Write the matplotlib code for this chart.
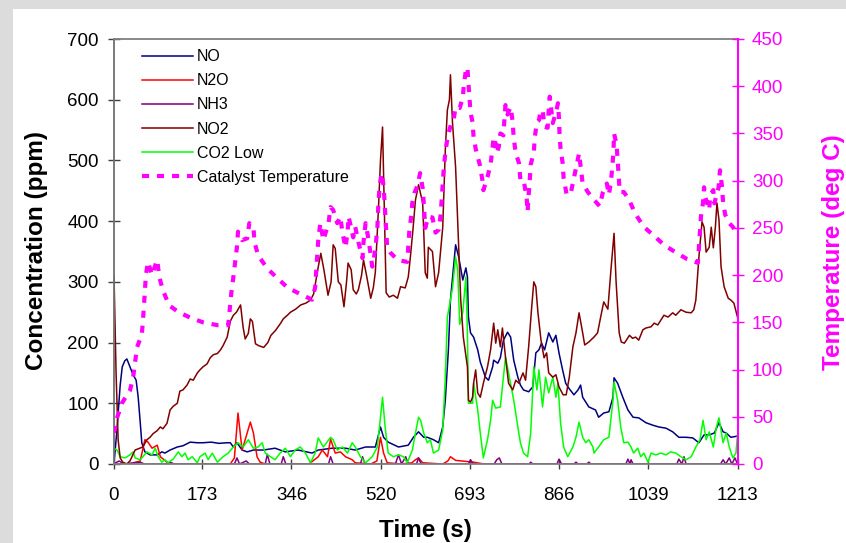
import matplotlib
matplotlib.use("Agg")
import matplotlib.pyplot as plt
from matplotlib.patches import Rectangle

plt.rcParams['font.family'] = ['Liberation Sans', 'DejaVu Sans']

# ---------------- data ----------------
no2_t = [1, 5, 9, 13, 18, 26, 32, 42, 48, 57, 65, 71, 77, 85, 91, 96, 104, 110, 116, 124, 129, 135, 143, 149, 155, 163,
         168, 174, 182, 188, 194, 202, 208, 213, 221, 227, 233, 239, 247, 252, 256, 262, 266, 270, 276, 282, 292, 300,
         306, 315, 325, 330, 338, 344, 354, 364, 374, 383, 389, 397, 403, 409, 417, 423, 427, 431, 437, 442, 448, 453,
         456, 462, 466, 472, 476, 482, 486, 492, 500, 505, 509, 515, 519, 523, 527, 530, 536, 544, 552, 558, 567, 573,
         577, 582, 587, 593, 601, 606, 610, 612, 620, 626, 632, 640, 645, 649, 653, 655, 659, 665, 671, 675, 680, 688,
         690, 694, 698, 700, 704, 708, 713, 719, 727, 733, 739, 743, 747, 752, 756, 762, 768, 776, 782, 788, 796, 801,
         807, 813, 817, 821, 825, 831, 837, 842, 846, 854, 860, 866, 874, 880, 886, 893, 899, 905, 912, 916, 924, 934,
         941, 947, 953, 961, 967, 973, 977, 983, 987, 993, 997, 1003, 1009, 1015, 1021, 1029, 1035, 1045, 1051, 1058,
         1064, 1070, 1078, 1087, 1093, 1103, 1113, 1123, 1128, 1132, 1138, 1144, 1148, 1152, 1158, 1162, 1166, 1170,
         1173, 1177, 1181, 1187, 1195, 1200, 1206, 1213]
no2_v = [310, 150, 40, 10, 3, 0, 5, 23, 25, 28, 40, 44, 50, 55, 61, 58, 67, 89, 95, 100, 120, 122, 130, 140, 138, 150,
         155, 160, 165, 175, 180, 182, 188, 195, 209, 235, 245, 250, 262, 225, 206, 215, 239, 235, 198, 195, 192, 200,
         212, 220, 232, 239, 245, 250, 255, 262, 265, 270, 280, 320, 347, 320, 278, 300, 361, 355, 300, 295, 259, 300,
         331, 320, 287, 280, 287, 310, 336, 310, 273, 290, 316, 420, 500, 555, 400, 282, 275, 278, 273, 292, 290, 308,
         340, 385, 435, 460, 430, 315, 306, 357, 350, 292, 315, 390, 517, 583, 600, 641, 562, 489, 357, 270, 209, 160,
         105, 102, 110, 133, 155, 117, 110, 133, 160, 188, 232, 199, 221, 193, 224, 176, 133, 122, 138, 133, 150, 138,
         193, 259, 300, 292, 250, 204, 175, 183, 150, 143, 147, 127, 114, 114, 143, 193, 216, 249, 216, 196, 201, 209,
         216, 242, 267, 255, 320, 380, 300, 216, 201, 199, 204, 212, 207, 209, 204, 221, 224, 226, 232, 229,
         237, 245, 242, 249, 245, 254, 250, 249, 254, 270, 341, 399, 390, 349, 357, 390, 356, 390,
         430, 402, 325, 292, 273, 270, 265, 242]

no_t = [1, 7, 13, 17, 22, 26, 32, 38, 44, 48, 52, 55, 61, 71, 85, 94, 100, 110, 124, 135, 149, 163, 174, 190, 205, 220,
        227, 233, 240, 250, 260, 272, 291, 314, 334, 359, 386, 398, 425, 451, 470, 490, 509, 519, 525, 534, 554, 573,
        583, 593, 603, 610, 622, 632, 640, 645, 651, 655, 665, 671, 679, 685, 688, 690, 694, 700, 708, 713, 723, 729,
        737, 739, 747, 752, 758, 766, 772, 778, 786, 791, 797, 807, 815, 821, 827, 832, 838, 846, 854, 860, 866, 873,
        879, 885, 895, 903, 908, 912, 924, 937, 943, 953, 963, 971, 973, 980, 990, 1000, 1010, 1021, 1035, 1048, 1060,
        1074, 1087, 1099, 1113, 1126, 1138, 1148, 1158, 1168, 1177, 1185, 1191, 1200, 1213]
no_v = [0, 60, 130, 160, 170, 173, 160, 147, 138, 110, 68, 35, 20, 15, 15, 20, 18, 23, 28, 30, 36, 35, 35, 36, 34, 35,
        35, 28, 35, 23, 20, 23, 23, 26, 20, 23, 18, 23, 26, 26, 23, 28, 28, 61, 44, 36, 28, 31,
        44, 53, 44, 44, 40, 35, 61, 105, 188, 270, 361, 341, 303, 323, 308, 242, 216, 209, 188, 168, 143, 138,
        160, 171, 166, 175, 204, 217, 209, 171, 143, 130, 122, 119, 127, 183, 188, 199, 188, 216, 201, 212, 183, 155,
        133, 125, 114, 122, 130, 110, 94, 89, 77, 84, 86, 110, 142, 133, 110, 89, 77, 76, 68, 64, 61,
        59, 53, 44, 44, 43, 35, 48, 48, 51, 68, 53, 51, 44, 46]

n2o_t = [1, 30, 52, 61, 67, 75, 85, 91, 104, 115, 200, 227, 235, 242, 250, 256, 266, 272, 279, 285, 295, 380, 398, 406,
         416, 422, 431, 441, 451, 464, 470, 500, 512, 519, 525, 532, 560, 580, 587, 593, 601, 640, 650, 655, 665, 700,
         720, 1213]
n2o_v = [0, 0, 5, 40, 36, 26, 31, 12, 3, 0, 0, 0, 10, 84, 23, 40, 69, 51, 12, 3, 0, 0, 12, 23,
         12, 41, 18, 20, 12, 7, 2, 0, 5, 44, 18, 2, 0, 2, 7, 10, 2, 0, 5, 12, 6, 3,
         0, 0]

nh3_t = [0, 11, 20, 52, 60, 100, 110, 118, 235, 240, 245, 258, 264, 295, 299, 304, 326, 330, 335, 418, 422, 427, 480,
         484, 489, 548, 554, 560, 568, 573, 589, 593, 598, 690, 694, 699, 740, 745, 750, 755, 808, 811, 815, 862, 866,
         871, 895, 899, 903, 920, 924, 928, 996, 1000, 1004, 1006, 1010, 1095, 1099, 1105, 1109, 1113, 1180, 1185,
         1190, 1197, 1202, 1208, 1213]
nh3_v = [0, 5, 0, 3, 0, 0, 3, 0, 0, 10, 0, 5, 0, 0, 16, 0, 0, 12, 0, 0, 12, 0, 0,
         12, 0, 0, 15, 0, 12, 0, 0, 10, 0, 0, 7, 0, 0, 7, 10, 0, 0, 3, 0, 0, 8,
         0, 0, 3, 0, 0, 3, 0, 0, 8, 0, 7, 0, 0, 8, 0, 12, 0, 0, 7,
         0, 10, 0, 10, 0]

co2_t = [0, 7, 13, 22, 32, 38, 42, 52, 57, 65, 75, 81, 87, 94, 100, 106, 116, 126, 133, 139, 145, 153, 163, 168, 178,
         184, 192, 202, 213, 223, 233, 242, 252, 262, 272, 281, 289, 295, 305, 314, 324, 334, 344, 353, 363, 373, 383,
         392, 398, 408, 422, 427, 435, 445, 455, 464, 470, 480, 490, 503, 513, 523, 528, 534, 544, 554, 564, 571, 581,
         587, 593, 597, 603, 610, 616, 622, 632, 640, 645, 649, 655, 659, 665, 669, 673, 679, 685, 688, 690, 698, 700,
         708, 713, 719, 727, 733, 737, 743, 752, 762, 768, 778, 786, 791, 797, 805, 811, 817, 823, 827, 834, 840, 846,
         854, 860, 864, 869, 875, 883, 893, 899, 905, 912, 918, 924, 932, 934, 943, 953, 963, 971, 973, 980, 986, 992,
         1000, 1006, 1011, 1019, 1025, 1031, 1039, 1045, 1054, 1064, 1074, 1083, 1093, 1103, 1113, 1123, 1132, 1140,
         1146, 1152, 1158, 1166, 1172, 1177, 1185, 1191, 1197, 1204, 1210, 1213]
co2_v = [26, 23, 12, 10, 15, 20, 10, 7, 12, 20, 15, 26, 12, 3, 7, 2, 8, 20, 12, 18, 7, 12, 2, 12, 18,
         7, 18, 3, 12, 18, 28, 35, 28, 40, 26, 28, 35, 18, 12, 7, 18, 26, 12, 23, 28, 18, 2,
         18, 43, 28, 44, 40, 23, 28, 18, 35, 28, 12, 2, 12, 28, 110, 61, 18, 12, 15, 12, 2, 23,
         51, 77, 72, 51, 35, 40, 18, 23, 56, 143, 242, 270, 290, 341, 320, 230, 250, 308, 216, 100, 100, 133,
         89, 51, 10, 40, 72, 105, 92, 94, 176, 150, 105, 61, 35, 18, 12, 51, 160, 122, 155, 94, 143, 117,
         143, 110, 133, 68, 28, 12, 28, 44, 69, 44, 35, 40, 28, 18, 28, 40, 44, 105, 135, 105, 61, 35,
         36, 28, 18, 26, 12, 18, 3, 18, 15, 18, 15, 20, 18, 12, 7, 12, 28, 40,
         72, 40, 53, 28, 61, 76, 35, 51, 28, 10, 18, 48]

temp_t = [1, 7, 17, 32, 38, 42, 46, 55, 57, 59, 63, 67, 75, 79, 85, 89, 96, 108, 126, 149, 174, 202, 223, 229, 233,
          240, 242, 250, 260, 264, 272, 274, 281, 299, 318, 338, 359, 386, 392, 396, 398, 402, 408, 418, 422, 427, 435,
          441, 445, 451, 455, 457, 466, 470, 476, 484, 486, 490, 496, 503, 509, 513, 515, 517, 521, 525, 527, 532, 538,
          552, 571, 575, 579, 581, 585, 591, 596, 601, 603, 606, 612, 620, 626, 632, 636, 638, 640, 642, 645, 649, 657,
          661, 665, 673, 679, 681, 685, 688, 690, 692, 694, 698, 700, 704, 708, 712, 717, 719, 727, 733, 739, 741, 745,
          749, 752, 758, 760, 762, 766, 768, 772, 776, 778, 782, 788, 791, 797, 803, 805, 807, 809, 811, 817, 819, 823,
          827, 829, 834, 838, 844, 846, 848, 854, 860, 864, 866, 867, 869, 873, 875, 881, 889, 895, 899, 905, 908, 912,
          922, 932, 945, 951, 959, 963, 967, 970, 972, 973, 978, 980, 982, 984, 992, 1002, 1011, 1019, 1031, 1050,
          1070, 1093, 1115, 1136, 1138, 1142, 1146, 1148, 1150, 1158, 1160, 1166, 1168, 1176, 1179, 1183, 1185, 1189,
          1197, 1204, 1210]
temp_v = [33, 49, 65, 78, 91, 108, 124, 137, 150, 166, 200, 214, 200, 207, 216, 198, 184, 168, 161, 155, 150, 147, 147,
          181, 198, 230, 246, 237, 239, 255, 251, 235, 221, 207, 197, 187, 181, 174, 187, 221, 237, 255, 237, 255, 272,
          269, 255, 262, 245, 229, 246, 262, 240, 251, 235, 218, 235, 255, 237, 209, 227, 251, 276, 292, 308, 295, 277,
          229, 224, 216, 214, 246, 264, 277, 287, 295, 308, 292, 277, 250, 262, 261, 245, 248, 264, 280, 297, 313, 329,
          345, 362, 364, 378, 377, 388, 401, 417, 420, 403, 388, 372, 362, 346, 334, 325, 317, 301, 290, 304, 317, 346,
          345, 329, 336, 350, 348, 366, 380, 370, 373, 378, 362, 345, 329, 319, 301, 301, 283, 267, 285, 299, 317, 330,
          346, 362, 364, 370, 375, 357, 356, 375, 389, 361, 372, 382, 366, 350, 334, 319, 303, 285, 287, 303, 313, 329,
          315, 297, 288, 281, 273, 287, 297, 285, 299, 317, 332, 350, 338, 322, 306, 288, 288, 280, 269, 261, 251, 242,
          232, 224, 217, 213, 230, 262, 277, 293, 283, 269, 285, 290, 276, 292, 311, 293, 277, 264, 255, 251, 245]

x_ticks = [0, 173, 346, 520, 693, 866, 1039, 1213]
y_ticks = [0, 100, 200, 300, 400, 500, 600, 700]
t_ticks = [0, 50, 100, 150, 200, 250, 300, 350, 400, 450]

# ---------------- figure ----------------
W, H = 846, 543
fig = plt.figure(figsize=(W / 100, H / 100), dpi=100, facecolor='#dcdcdc')
fig.add_artist(Rectangle((13 / W, 0), 1, 1 - 9 / H, transform=fig.transFigure,
                         facecolor='white', edgecolor='none', zorder=-10))

left, right, top, bottom = 113.5, 737.5, 39, 464
ax = fig.add_axes([left / W, 1 - bottom / H, (right - left) / W, (bottom - top) / H])
ax.set_facecolor('white')

l_no, = ax.plot(no_t, no_v, color='#000080', lw=1.1, label='NO')
l_n2o, = ax.plot(n2o_t, n2o_v, color='#ff0000', lw=1.1, label='N2O')
l_nh3, = ax.plot(nh3_t, nh3_v, color='#800080', lw=1.1, label='NH3')
l_no2, = ax.plot(no2_t, no2_v, color='#800000', lw=1.1, label='NO2')
l_co2, = ax.plot(co2_t, co2_v, color='#00ff00', lw=1.1, label='CO2 Low')
l_no2.set_zorder(2.5)

ax.set_xlim(0, 1213)
ax.set_ylim(0, 700)
ax.set_xticks(x_ticks)
ax.set_yticks(y_ticks)
ax.tick_params(axis='both', labelsize=13.5, color='#404040', labelcolor='black')
ax.tick_params(axis='y', direction='inout', length=9, width=1, pad=6)
ax.tick_params(axis='x', direction='inout', length=7, width=1, pad=13)
ax.spines['left'].set_color('#707070')
ax.spines['left'].set_linewidth(1.3)
for s in ['bottom', 'top']:
    ax.spines[s].set_color('#808080')
    ax.spines[s].set_linewidth(1.3)
ax.spines['right'].set_visible(False)

ax2 = ax.twinx()
l_temp, = ax2.plot(temp_t, temp_v, color='#ff00ff', lw=3, linestyle=(0, (1.7, 1.9)),
                   label='Catalyst Temperature')
ax2.set_ylim(0, 450)
ax2.set_yticks(t_ticks)
ax2.tick_params(axis='y', direction='inout', length=9, width=1, pad=6, labelsize=13.5,
                color='#ff00ff', labelcolor='#ff00ff')
ax2.spines['right'].set_color('#ff00ff')
ax2.spines['right'].set_linewidth(1.5)
for s in ['left', 'top', 'bottom']:
    ax2.spines[s].set_visible(False)

leg = ax2.legend(handles=[l_no, l_n2o, l_nh3, l_no2, l_co2, l_temp], loc='upper left',
                 bbox_to_anchor=(0.045, 0.976), frameon=False, fontsize=11.5,
                 handlelength=3.2, handletextpad=0.25, labelspacing=0.57,
                 borderpad=0, borderaxespad=0)

fig.text(425 / W, 1 - 530 / H, 'Time (s)', ha='center', va='center',
         fontsize=17.5, fontweight='bold')
fig.text(37 / W, 1 - 251 / H, 'Concentration (ppm)', ha='center', va='center',
         rotation=90, fontsize=17.5, fontweight='bold')
fig.text(833 / W, 1 - 252 / H, 'Temperature (deg C)', ha='center', va='center',
         rotation=90, fontsize=17.5, fontweight='bold', color='#ff00ff')

fig.savefig('out.png', dpi=100, facecolor=fig.get_facecolor())
